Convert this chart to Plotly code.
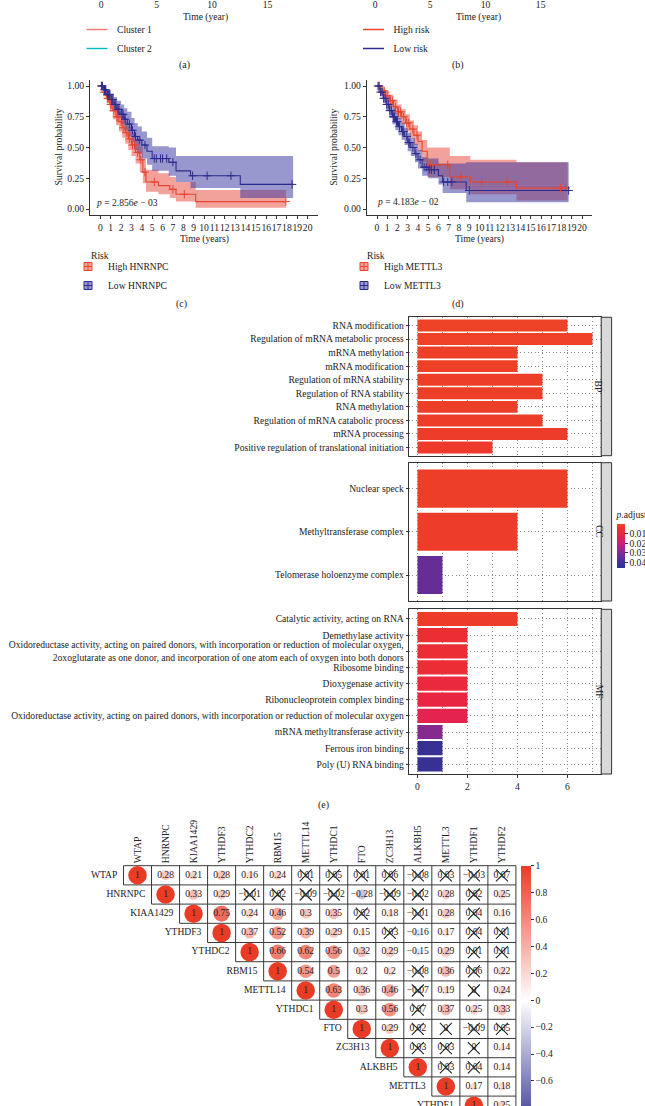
import plotly.graph_objects as go

W, H = 645, 1106
FONT = "Liberation Serif"
TXT = "#222222"
FS = 9.6

# ---------------- data ----------------
# (a) / (b): only the bottom of these panels is visible
ab_ticks = [0, 5, 10, 15]
a_groups = ["Cluster 1", "Cluster 2"]
a_colors = ["#F8766D", "#00BFC4"]
b_groups = ["High risk", "Low risk"]
b_colors = ["#E8462F", "#2E2D8C"]

# (c) / (d) Kaplan-Meier
km_ticks = list(range(0, 21))
surv_ticks = [0, 0.25, 0.5, 0.75, 1.0]
surv_ticktext = ["0.00", "0.25", "0.50", "0.75", "1.00"]

c_high_t = [0, 0.3, 0.6, 0.9, 1.2, 1.5, 1.8, 2.1, 2.4, 2.7, 3.0, 3.4, 3.8, 4.1, 4.4, 5.6, 6.7, 7.3, 9.2]
c_high_s = [1.0, 0.95, 0.90, 0.85, 0.80, 0.75, 0.71, 0.66, 0.62, 0.57, 0.52, 0.46, 0.40, 0.30, 0.22, 0.19, 0.16, 0.12, 0.06]
c_high_hi = [1.0, 0.98, 0.95, 0.91, 0.87, 0.83, 0.79, 0.75, 0.71, 0.67, 0.62, 0.57, 0.51, 0.41, 0.32, 0.29, 0.26, 0.22, 0.155]
c_high_lo = [1.0, 0.92, 0.86, 0.79, 0.73, 0.68, 0.63, 0.58, 0.53, 0.48, 0.43, 0.37, 0.30, 0.21, 0.14, 0.12, 0.09, 0.06, 0.01]
c_high_end = 17.9
c_high_cens = [0.15, 0.35, 0.5, 0.7, 0.8, 1.0, 1.1, 1.3, 1.6, 1.7, 2.0, 2.2, 2.5, 2.8, 3.1, 3.3, 3.6, 3.9, 4.3, 5.2, 7.0, 8.1, 17.9]

c_low_t = [0, 0.3, 0.6, 1.0, 1.3, 1.6, 2.0, 2.3, 2.6, 3.0, 3.3, 3.6, 4.0, 4.5, 5.0, 6.6, 7.3, 8.7, 13.5]
c_low_s = [1.0, 0.97, 0.93, 0.89, 0.85, 0.81, 0.77, 0.73, 0.69, 0.64, 0.59, 0.56, 0.52, 0.47, 0.41, 0.38, 0.31, 0.27, 0.20]
c_low_hi = [1.0, 0.99, 0.97, 0.94, 0.91, 0.88, 0.85, 0.82, 0.79, 0.74, 0.70, 0.67, 0.63, 0.58, 0.51, 0.50, 0.43, 0.43, 0.43]
c_low_lo = [1.0, 0.94, 0.89, 0.84, 0.79, 0.74, 0.69, 0.64, 0.59, 0.54, 0.48, 0.45, 0.41, 0.36, 0.31, 0.27, 0.22, 0.17, 0.09]
c_low_end = 18.6
c_low_cens = [0.1, 0.2, 0.4, 0.5, 0.7, 0.8, 0.9, 1.1, 1.2, 1.4, 1.5, 1.7, 1.8, 2.1, 2.2, 2.4, 2.8, 3.1, 3.4, 3.8,
              4.3, 5.2, 5.4, 5.8, 6.0, 6.4, 7.0, 8.9, 10.3, 12.6, 18.5]

d_high_t = [0, 0.4, 0.8, 1.2, 1.6, 2.0, 2.4, 2.8, 3.2, 3.6, 4.0, 4.4, 4.9, 7.1, 9.1, 13.6]
d_high_s = [1.0, 0.96, 0.92, 0.88, 0.83, 0.79, 0.75, 0.70, 0.65, 0.60, 0.55, 0.47, 0.36, 0.26, 0.22, 0.17]
d_high_hi = [1.0, 0.99, 0.96, 0.93, 0.89, 0.85, 0.81, 0.77, 0.72, 0.68, 0.63, 0.56, 0.50, 0.43, 0.40, 0.38]
d_high_lo = [1.0, 0.93, 0.88, 0.83, 0.77, 0.73, 0.69, 0.63, 0.58, 0.52, 0.47, 0.38, 0.26, 0.16, 0.12, 0.07]
d_high_end = 18.6
d_high_cens = [0.2, 0.5, 0.7, 1.0, 1.3, 1.5, 1.8, 2.1, 2.3, 2.6, 2.9, 3.1, 3.5, 3.9, 5.2, 5.5, 5.9, 6.9,
               8.2, 10.2, 12.7, 17.9, 18.4]

d_low_t = [0, 0.3, 0.6, 0.9, 1.2, 1.5, 1.8, 2.1, 2.4, 2.7, 3.0, 3.3, 3.7, 4.0, 4.4, 5.0, 6.0, 6.4, 8.7]
d_low_s = [1.0, 0.95, 0.90, 0.85, 0.80, 0.75, 0.71, 0.67, 0.63, 0.59, 0.54, 0.50, 0.45, 0.40, 0.34, 0.32, 0.27, 0.22, 0.15]
d_low_hi = [1.0, 0.98, 0.94, 0.90, 0.86, 0.82, 0.78, 0.74, 0.70, 0.66, 0.62, 0.58, 0.53, 0.48, 0.42, 0.41, 0.37, 0.37, 0.38]
d_low_lo = [1.0, 0.92, 0.86, 0.80, 0.74, 0.69, 0.64, 0.60, 0.56, 0.52, 0.47, 0.43, 0.38, 0.33, 0.27, 0.25, 0.20, 0.13, 0.055]
d_low_end = 18.7
d_low_cens = [0.1, 0.2, 0.35, 0.5, 0.65, 0.8, 0.95, 1.1, 1.25, 1.4, 1.6, 1.7, 1.9, 2.0, 2.2, 2.5, 2.6, 2.9, 3.1,
              3.2, 3.5, 3.8, 4.2, 4.6, 4.8, 5.1, 5.3, 5.6, 6.5, 6.9, 7.3, 9.0, 18.7]

c_names = ["High HNRNPC", "Low HNRNPC"]
d_names = ["High METTL3", "Low METTL3"]
legend_title = "Risk"
c_pval = "<i>p</i> = 2.856<i>e</i> − 03"
d_pval = "<i>p</i> = 4.183<i>e</i> − 02"

# (e) GO enrichment
bp_terms = ["RNA modification", "Regulation of mRNA metabolic process", "mRNA methylation", "mRNA modification",
            "Regulation of mRNA stability", "Regulation of RNA stability", "RNA methylation",
            "Regulation of mRNA catabolic process", "mRNA processing",
            "Positive regulation of translational initiation"]
bp_counts = [6, 7, 4, 4, 5, 5, 4, 5, 6, 3]
bp_padj = [0.0008, 0.0010, 0.0012, 0.0012, 0.0015, 0.0015, 0.0016, 0.0018, 0.0020, 0.0025]

cc_terms = ["Nuclear speck", "Methyltransferase complex", "Telomerase holoenzyme complex"]
cc_counts = [6, 4, 1]
cc_padj = [0.0015, 0.0020, 0.0340]

mf_terms = ["Catalytic activity, acting on RNA", "Demethylase activity",
            "Oxidoreductase activity, acting on paired donors, with incorporation or reduction of molecular oxygen,<br>"
            "2oxoglutarate as one donor, and incorporation of one atom each of oxygen into both donors",
            "Ribosome binding", "Dioxygenase activity", "Ribonucleoprotein complex binding",
            "Oxidoreductase activity, acting on paired donors, with incorporation or reduction of molecular oxygen",
            "mRNA methyltransferase activity", "Ferrous iron binding", "Poly (U) RNA binding"]
mf_counts = [4, 2, 2, 2, 2, 2, 2, 1, 1, 1]
mf_padj = [0.0020, 0.0055, 0.0060, 0.0062, 0.0080, 0.0095, 0.0120, 0.0290, 0.0430, 0.0430]

go_xticks = [0, 2, 4, 6]
padj_ticks = [0.01, 0.02, 0.03, 0.04]
facet_names = ["BP", "CC", "MF"]

# (f) correlation matrix (upper triangle, each row starts at the diagonal)
genes = ["WTAP", "HNRNPC", "KIAA1429", "YTHDF3", "YTHDC2", "RBM15", "METTL14", "YTHDC1", "FTO",
         "ZC3H13", "ALKBH5", "METTL3", "YTHDF1", "YTHDF2"]
corr_rows = [
    [1, 0.28, 0.21, 0.28, 0.16, 0.24, 0.01, 0.05, 0.01, 0.06, -0.08, 0.03, -0.03, 0.07],
    [1, 0.33, 0.29, -0.01, 0.02, -0.09, -0.02, -0.28, -0.09, -0.02, 0.28, 0.02, 0.25],
    [1, 0.75, 0.24, 0.46, 0.3, 0.35, 0.02, 0.18, -0.01, 0.28, 0.04, 0.16],
    [1, 0.37, 0.52, 0.39, 0.29, 0.15, 0.03, -0.16, 0.17, 0.04, 0.01],
    [1, 0.66, 0.62, 0.56, 0.32, 0.29, -0.15, 0.29, 0.01, 0.01],
    [1, 0.54, 0.5, 0.2, 0.2, -0.08, 0.36, 0.06, 0.22],
    [1, 0.63, 0.36, 0.46, -0.07, 0.19, 0, 0.24],
    [1, 0.3, 0.56, 0.07, 0.37, 0.25, 0.33],
    [1, 0.29, 0.02, 0, -0.09, 0.05],
    [1, 0.03, 0.03, 0, 0.14],
    [1, 0.03, 0.04, 0.14],
    [1, 0.17, 0.18],
    [1, 0.25],
    [1],
]
corr_insig = [
    [0, 0, 0, 0, 0, 0, 1, 1, 1, 1, 1, 1, 1, 1],
    [0, 0, 0, 1, 1, 1, 1, 0, 1, 1, 0, 1, 0],
    [0, 0, 0, 0, 0, 0, 1, 0, 1, 0, 1, 0],
    [0, 0, 0, 0, 0, 0, 1, 0, 0, 1, 1],
    [0, 0, 0, 0, 0, 0, 0, 0, 1, 1],
    [0, 0, 0, 0, 0, 1, 0, 1, 0],
    [0, 0, 0, 0, 1, 0, 1, 0],
    [0, 0, 0, 1, 0, 0, 0],
    [0, 0, 1, 1, 1, 1],
    [0, 1, 1, 1, 0],
    [0, 1, 1, 0],
    [0, 0, 0],
    [0, 0],
    [0],
]
corr_cbar_ticks = [1, 0.8, 0.6, 0.4, 0.2, 0, -0.2, -0.4, -0.6, -0.8, -1]

# ---------------- styles ----------------
RED_LINE = "#E6452F"
BLUE_LINE = "#2C2B8D"
RED_FILL = "rgba(232,70,55,0.5)"
BLUE_FILL = "rgba(50,50,160,0.5)"
RED_KEY = "#F3A29B"
BLUE_KEY = "#9999D0"
AX = "#333333"
GRID = "#8A8A8A"
DOT = "1px,2.6px"

go_scale = [[0.0, "#2D3192"], [0.125, "#423096"], [0.34, "#7D2B93"], [0.56, "#CD1F7B"],
            [0.78, "#E92543"], [0.9, "#EC3030"], [1.0, "#EE4624"]]
corr_scale = [[0.0, "#2B2C8F"], [0.5, "#FFFFFF"], [1.0, "#EA3B26"]]
PMAX = 0.0457


def xd(a, b):
    return [a / W, b / W]


def yd(top, bot):
    return [1 - bot / H, 1 - top / H]


def px(x):
    return x / W


def py(y):
    return 1 - y / H


def fmt(v):
    s = ("%.2f" % abs(v)).rstrip("0").rstrip(".")
    if s == "":
        s = "0"
    return ("−" if v < 0 else "") + s


def step_at(t, s, c):
    v = s[0]
    for ti, si in zip(t, s):
        if ti <= c:
            v = si
        else:
            break
    return v


fig = go.Figure()

# ---------- (a), (b) legends (entries drawn on the top-strip axes) ----------
for names, cols, xa, ya, lg in [(a_groups, a_colors, "x", "y", "legend"),
                                (b_groups, b_colors, "x2", "y2", "legend2")]:
    for n_, c in zip(names, cols):
        fig.add_trace(go.Scatter(x=[None], y=[None], mode="markers", name=n_, xaxis=xa, yaxis=ya,
                                 marker=dict(symbol="line-ew", size=15, line=dict(color=c, width=1.4)),
                                 legend=lg, showlegend=True, hoverinfo="skip"))


# ---------- (c), (d) Kaplan-Meier ----------
def add_km(groups, xa, ya, lg):
    for g in groups:
        xs = g["t"] + [g["end"]]
        fig.add_trace(go.Scatter(x=xs, y=g["hi"] + [g["hi"][-1]], mode="lines",
                                 line=dict(width=0, shape="hv"), xaxis=xa, yaxis=ya,
                                 showlegend=False, hoverinfo="skip"))
        fig.add_trace(go.Scatter(x=xs, y=g["lo"] + [g["lo"][-1]], mode="lines",
                                 line=dict(width=0, shape="hv"), fill="tonexty", fillcolor=g["fill"],
                                 xaxis=xa, yaxis=ya, showlegend=False, hoverinfo="skip"))
    for g in groups:
        xs = g["t"] + [g["end"]]
        fig.add_trace(go.Scatter(x=xs, y=g["s"] + [g["s"][-1]], mode="lines",
                                 line=dict(width=1.1, shape="hv", color=g["line"]), xaxis=xa, yaxis=ya,
                                 showlegend=False, hoverinfo="skip"))
    for g in groups:
        cy = [step_at(g["t"], g["s"], c) for c in g["cens"]]
        fig.add_trace(go.Scatter(x=g["cens"], y=cy, mode="markers",
                                 marker=dict(symbol="cross-thin", size=6, line=dict(color=g["line"], width=1)),
                                 xaxis=xa, yaxis=ya, showlegend=False, hoverinfo="skip"))
    for g in groups:
        fig.add_trace(go.Scatter(x=[None], y=[None], mode="markers", name=g["name"], xaxis=xa, yaxis=ya,
                                 marker=dict(symbol="square-cross", size=8, color=g["key"],
                                             line=dict(color=g["line"], width=1)),
                                 legend=lg, showlegend=True, hoverinfo="skip"))


add_km([
    dict(t=c_high_t, s=c_high_s, hi=c_high_hi, lo=c_high_lo, end=c_high_end, cens=c_high_cens,
         line=RED_LINE, fill=RED_FILL, key=RED_KEY, name=c_names[0]),
    dict(t=c_low_t, s=c_low_s, hi=c_low_hi, lo=c_low_lo, end=c_low_end, cens=c_low_cens,
         line=BLUE_LINE, fill=BLUE_FILL, key=BLUE_KEY, name=c_names[1]),
], "x3", "y3", "legend3")

add_km([
    dict(t=d_high_t, s=d_high_s, hi=d_high_hi, lo=d_high_lo, end=d_high_end, cens=d_high_cens,
         line=RED_LINE, fill=RED_FILL, key=RED_KEY, name=d_names[0]),
    dict(t=d_low_t, s=d_low_s, hi=d_low_hi, lo=d_low_lo, end=d_low_end, cens=d_low_cens,
         line=BLUE_LINE, fill=BLUE_FILL, key=BLUE_KEY, name=d_names[1]),
], "x4", "y4", "legend4")

# ---------- (e) GO bars ----------
for terms, counts, padj, xa, ya in [(bp_terms, bp_counts, bp_padj, "x5", "y5"),
                                    (cc_terms, cc_counts, cc_padj, "x6", "y6"),
                                    (mf_terms, mf_counts, mf_padj, "x7", "y7")]:
    fig.add_trace(go.Bar(x=counts, y=terms, orientation="h", width=0.88, xaxis=xa, yaxis=ya,
                         marker=dict(color=[-p for p in padj], coloraxis="coloraxis", line=dict(width=0)),
                         showlegend=False, hoverinfo="skip"))

# ---------- (f) correlation matrix ----------
n = len(genes)
seg_x, seg_y = [], []
for k in range(n + 1):
    seg_x += [max(k - 1, 0) - 0.5, n - 0.5, None]
    seg_y += [k - 0.5, k - 0.5, None]
for k in range(n + 1):
    seg_x += [k - 0.5, k - 0.5, None]
    seg_y += [-0.5, min(k, n - 1) + 0.5, None]
fig.add_trace(go.Scatter(x=seg_x, y=seg_y, mode="lines", line=dict(color="#3A3A3A", width=1),
                         xaxis="x8", yaxis="y8", showlegend=False, hoverinfo="skip"))

cx, cy, cv, ct, xx, xy = [], [], [], [], [], []
for i, row in enumerate(corr_rows):
    for k, v in enumerate(row):
        j = i + k
        cx.append(j)
        cy.append(i)
        cv.append(v)
        ct.append(fmt(v))
        if corr_insig[i][k]:
            xx.append(j)
            xy.append(i)

fig.add_trace(go.Scatter(
    x=cx, y=cy, mode="markers", xaxis="x8", yaxis="y8", showlegend=False, hoverinfo="skip",
    marker=dict(size=[18.5 * abs(v) ** 0.5 for v in cv], color=cv, colorscale=corr_scale, cmin=-1, cmax=1,
                opacity=1, line=dict(width=0),
                colorbar=dict(x=px(520.7), xanchor="left", y=py(865.7), yanchor="top",
                              len=268.8, lenmode="pixels", thickness=10, thicknessmode="pixels",
                              xpad=0, ypad=0, outlinewidth=0, tickvals=corr_cbar_ticks,
                              ticktext=[fmt(v) for v in corr_cbar_ticks], ticks="outside", ticklen=3,
                              tickcolor=AX, tickfont=dict(family=FONT, size=FS, color=TXT)))))
fig.add_trace(go.Scatter(x=cx, y=cy, mode="text", text=ct, textposition="middle center",
                         textfont=dict(family=FONT, size=FS, color=TXT), xaxis="x8", yaxis="y8",
                         showlegend=False, hoverinfo="skip"))
fig.add_trace(go.Scatter(x=xx, y=xy, mode="markers", xaxis="x8", yaxis="y8", showlegend=False,
                         marker=dict(symbol="x-thin", size=12, opacity=1, line=dict(color=TXT, width=1.1)),
                         hoverinfo="skip"))
fig.add_trace(go.Scatter(x=[i - 0.72 for i in range(n)], y=list(range(n)), mode="text", text=genes,
                         textposition="middle left", textfont=dict(family=FONT, size=FS, color=TXT),
                         xaxis="x8", yaxis="y8", showlegend=False, hoverinfo="skip"))

# ---------------- layout ----------------
tickfont = dict(family=FONT, size=FS, color=TXT)
base = dict(showgrid=False, zeroline=False, automargin=False, tickfont=tickfont)
km_ax = dict(base, showline=True, linecolor=AX, linewidth=0.9, ticks="outside", ticklen=3,
             tickcolor=AX, tickwidth=0.9, tickangle=0)
go_x = dict(base, range=[-0.35, 7.35], tickmode="array", tickvals=go_xticks, showline=True, mirror=True,
            linecolor=AX, linewidth=1, showgrid=True, gridcolor=GRID, griddash=DOT, gridwidth=0.8,
            tickangle=0,
            minor=dict(tickmode="linear", tick0=0, dtick=1, showgrid=True, gridcolor=GRID,
                       griddash=DOT, gridwidth=0.8))
go_y = dict(base, type="category", categoryorder="array", showline=True, mirror=True, linecolor=AX,
            linewidth=1, showgrid=True, gridcolor=GRID, griddash=DOT, gridwidth=0.8,
            ticks="outside", ticklen=2, tickcolor=AX)

# correlation geometry
CW, CH = 28.03, 19.2
C_LEFT, C_TOP = 123.5, 865.7
x8_left_px, x8_right_px = 0, C_LEFT + n * CW + 1.5
y8_top_px = C_TOP - 1.5

leg_common = dict(xanchor="left", yanchor="top", bgcolor="rgba(0,0,0,0)", font=tickfont, borderwidth=0,
                  traceorder="normal")

fig.update_layout(
    width=W, height=H, template="none", paper_bgcolor="white", plot_bgcolor="rgba(0,0,0,0)",
    margin=dict(l=0, r=0, t=0, b=0, autoexpand=False), hovermode=False,
    font=dict(family=FONT, size=FS, color=TXT),
    xaxis=dict(base, domain=xd(90, 320), range=[-1, 19.74], tickvals=ab_ticks, anchor="y", ticks="",
               ticklabelstandoff=-5, tickangle=0),
    yaxis=dict(base, domain=yd(0, 2), range=[0, 1], visible=False, anchor="x"),
    xaxis2=dict(base, domain=xd(364, 593), range=[-1, 19.74], tickvals=ab_ticks, anchor="y2", ticks="",
                ticklabelstandoff=-5, tickangle=0),
    yaxis2=dict(base, domain=yd(0, 2), range=[0, 1], visible=False, anchor="x2"),
    xaxis3=dict(km_ax, domain=xd(90, 318), range=[-1, 21], tickvals=km_ticks, anchor="y3"),
    yaxis3=dict(km_ax, domain=yd(79.85, 215.15), range=[-0.05, 1.05], tickvals=surv_ticks,
                ticktext=surv_ticktext, anchor="x3"),
    xaxis4=dict(km_ax, domain=xd(366.75, 592.25), range=[-1, 21], tickvals=km_ticks, anchor="y4"),
    yaxis4=dict(km_ax, domain=yd(79.85, 215.15), range=[-0.05, 1.05], tickvals=surv_ticks,
                ticktext=surv_ticktext, anchor="x4"),
    xaxis5=dict(go_x, domain=xd(408.7, 601.2), anchor="y5", showticklabels=False, ticks=""),
    yaxis5=dict(go_y, domain=yd(317.3, 455.7), categoryarray=bp_terms[::-1], range=[-0.6, 9.6], anchor="x5"),
    xaxis6=dict(go_x, domain=xd(408.7, 601.2), anchor="y6", showticklabels=False, ticks=""),
    yaxis6=dict(go_y, domain=yd(462.7, 601), categoryarray=cc_terms[::-1], range=[-0.6, 2.6], anchor="x6"),
    xaxis7=dict(go_x, domain=xd(408.7, 601.2), anchor="y7", ticks="outside", ticklen=3, tickcolor=AX),
    yaxis7=dict(go_y, domain=yd(609.3, 774), categoryarray=mf_terms[::-1], range=[-0.6, 9.6], anchor="x7"),
    xaxis8=dict(base, domain=xd(x8_left_px, x8_right_px),
                range=[-0.5 - (C_LEFT - x8_left_px) / CW, n - 0.5 + 1.5 / CW],
                side="top", anchor="y8", tickvals=list(range(n)), ticktext=genes, tickangle=-90, ticks=""),
    yaxis8=dict(base, domain=yd(y8_top_px, H), range=[-0.5 + (H - C_TOP) / CH, -0.5 - 1.5 / CH],
                visible=False, anchor="x8"),
    coloraxis=dict(colorscale=go_scale, cmin=-PMAX, cmax=0,
                   colorbar=dict(x=px(616.5), xanchor="left", y=py(508), yanchor="top", len=60,
                                 lenmode="pixels", thickness=8, thicknessmode="pixels", xpad=0, ypad=0,
                                 outlinewidth=0, tickvals=[-p for p in padj_ticks],
                                 ticktext=["%.2f" % p for p in padj_ticks], ticks="outside", ticklen=3,
                                 tickcolor=AX, tickfont=tickfont,
                                 title=dict(text="<i>p</i>.adjust", side="top",
                                            font=dict(family=FONT, size=FS, color=TXT)))),
    legend=dict(leg_common, x=px(77), y=py(15)),
    legend2=dict(leg_common, x=px(353.5), y=py(15)),
    legend3=dict(leg_common, x=px(68), y=py(252)),
    legend4=dict(leg_common, x=px(344), y=py(252)),
)

# strips for the GO facets
for name, (top, bot) in zip(facet_names, [(317.3, 455.7), (462.7, 601), (609.3, 774)]):
    fig.add_shape(type="rect", xref="paper", yref="paper", x0=px(601.2), x1=px(611.6), y0=py(bot), y1=py(top),
                  fillcolor="#D9D9D9", line=dict(color=AX, width=1), layer="above")
    fig.add_annotation(x=px(606.4), y=py((top + bot) / 2), xref="paper", yref="paper", text=name,
                       textangle=90, showarrow=False, font=dict(family=FONT, size=FS, color=TXT))

annots = [
    ("Time (year)", 205.4, 17, 0, "center"), ("Time (year)", 478.5, 17, 0, "center"),
    ("(a)", 184.7, 65, 0, "center"), ("(b)", 457.9, 65, 0, "center"),
    ("Survival probability", 58, 147.5, -90, "center"), ("Survival probability", 333.3, 147.5, -90, "center"),
    ("Time (years)", 204, 239, 0, "center"), ("Time (years)", 479.5, 239, 0, "center"),
    (c_pval, 94, 203, 0, "left"), (d_pval, 375, 202, 0, "left"),
    (legend_title, 89, 256, 0, "left"), (legend_title, 365, 256, 0, "left"),
    ("(c)", 181.7, 303.5, 0, "center"), ("(d)", 458, 304, 0, "center"),
    ("(e)", 323, 805, 0, "center"),
]
for text, ax_, ay_, ang, anc in annots:
    fig.add_annotation(x=px(ax_), y=py(ay_), xref="paper", yref="paper", text=text, textangle=ang,
                       xanchor=anc, yanchor="middle", showarrow=False,
                       font=dict(family=FONT, size=FS if text[0] != "(" else 10, color=TXT))

fig.write_html("out.html", config={"displayModeBar": False},
               post_script="document.body.style.margin='0px';")
